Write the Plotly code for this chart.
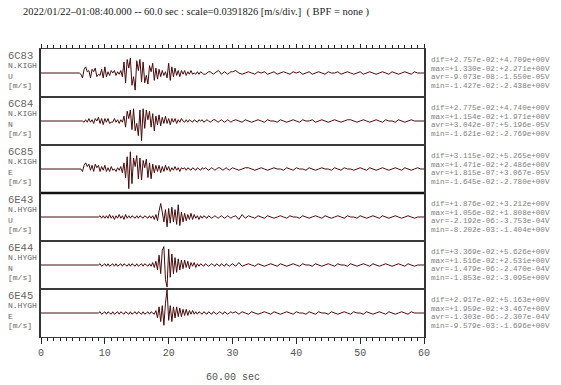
import numpy as np
import plotly.graph_objects as go
from plotly.subplots import make_subplots

# ---------------- data ----------------
TITLE = "2022/01/22\u201301:08:40.000 -- 60.0 sec : scale=0.0391826 [m/s/div.]  ( BPF = none )"
SCALE = 0.0391826          # m/s per division (one panel)
UNIT = 1e-3                # trace values below are in 1e-3 m/s
STATIONS = ["6C83", "6C84", "6C85", "6E43", "6E44", "6E45"]
SITES = ["N.KIGH", "N.KIGH", "N.KIGH", "N.HYGH", "N.HYGH", "N.HYGH"]
COMPS = ["U", "N", "E", "U", "N", "E"]
ONSETS = [6.0, 6.5, 6.25, 9.0, 9.0, 9.0]   # s, first sample of the early arrays
EARLY_DT = 0.25                            # s
LATE_T0 = 30.0                             # s
LATE_DT = 0.5                              # s
X_TICKS = [0, 10, 20, 30, 40, 50, 60]

tr1_early = [0, -1, -4, 3, 5, 1, 2, -4, 3, 1, 4, -3, -1, -2, 3, -4, 5, -3, 1, -2,
             2, 0, 2, -2, 1, -1, 2, -3, 9, -8, 11, 4, 12, -10, -3, -14, 10, 2, 11, -7,
             9, -8, -2, -9, 6, 1, 8, -6, 4, -5, 3, -3, 2, -2, 1, -4, 8, -6, 5, -3,
             4, -2, 2, -3, 2, -1, 2, -2, 1, -1, 2, -1, 0, -1, 1, -1, 1, 0, -1, -1,
             0, 1, 1, 0, -1, 0, 1, 2, 1, -1, 0, 1, 0, -1, 0, 1]
tr1_late = [1, 2, 0, -1, 0, 1, 0, -1, 1, 0, 1, -1, 0, 1, -1, 0, 1, 0, -1, 1,
            0, 1, -1, 0, 1, -1, 0, 1, 0, -1, 1, 0, 0, 1, -1, 0, 1, 0, -1, 0,
            1, -1, 0, 1, 0, -1, 0, 1, 0, -1, 1, 0, -1, 0, 1, 0, -1, 1, 0, 0]

tr2_early = [0, -1, 1, -1, 2, -1, 1, -2, 2, 0, 3, -2, 2, -3, 2, -1, 2, -2, -1, -1,
             2, -1, 1, -2, 1, -1, 4, -5, 8, 2, 9, -7, 10, -8, -2, -12, 9, -16, 10, -6,
             9, 1, 8, -5, 6, -8, 4, -3, 5, -4, 3, -2, 4, -2, 2, -3, 2, -1, 2, -2,
             1, -1, 2, 0, -1, 1, -1, 1, 0, -1, 1, 0, -1, 1, 0, 1, -1, 0, 1, 0,
             -1, 0, 1, 1, 0, -1, 0, 1, 0, -1, 0, 1, 0, -1]
tr2_late = [0, 1, 0, -1, 1, 0, -1, 0, 1, 0, -1, 1, 0, 0, -1, 1, 0, -1, 0, 1,
            0, -1, 1, 0, 0, 1, -1, 0, 1, 0, -1, 0, 1, 0, -1, 0, 1, 1, 0, -1,
            0, 1, 0, -1, 0, 1, 0, -1, 1, 0, 0, -1, 1, 0, -1, 0, 1, 0, 0, 0]

tr3_early = [0, -2, 3, 5, 2, 4, -1, 3, -2, 4, 1, 3, -2, 2, -1, 3, -2, 1, -2, 2,
             -1, 0, -2, 1, -1, 2, -3, 5, -7, 10, -16, 14, -12, 9, 2, 11, -8, 9, -9, 7,
             1, 8, -7, 5, -8, 4, -3, 3, -2, 3, -3, 2, -2, 3, -1, 2, -2, 1, -1, 2,
             -1, 1, -2, 1, 0, 1, -1, 1, 0, -1, 1, 0, -1, 1, 0, -1, 1, 0, 1, 0,
             -1, 0, 1, 0, -1, 0, 1, 1, 0, -1, 0, 1, 0, -1, 0]
tr3_late = [1, 0, -1, 0, 1, 1, 0, -1, 0, 1, 0, -1, 0, 1, 0, 0, -1, 1, 0, -1,
            1, 0, 0, -1, 1, 0, -1, 0, 1, 0, 0, -1, 1, 0, -1, 1, 0, 0, -1, 0,
            1, 0, -1, 1, 0, -1, 0, 1, 0, -1, 0, 1, 0, -1, 1, 0, -1, 0, 1, 0]

tr4_early = [0, 1, -1, 1, -1, 1, -1, 2, -1, 1, -2, 1, -1, 2, -1, 1, -2, 2, -1, 1,
             -1, 1, 0, -1, 1, -1, 1, 0, -1, 1, 0, -1, 1, -1, 1, -2, 2, -3, 5, 11,
             4, -4, 6, -8, 7, -5, 8, -4, 6, -6, 10, -7, 4, -4, 3, -3, 2, -2, 3, -2,
             2, -1, 1, -2, 1, -1, 1, 0, -1, 1, 0, -1, 0, 1, 0, -1, 0, 1, 0, -1,
             0, 1, 0, -1]
tr4_late = [0, 1, -2, 2, -1, 1, 0, -1, 1, 0, -1, 1, 0, -1, 0, 1, 0, -1, 1, 0,
            0, -1, 1, 0, -1, 0, 1, 0, -1, 1, 0, -1, 0, 1, 0, -1, 1, 0, 0, -1,
            1, 0, -1, 0, 1, 0, -1, 1, 0, -1, 0, 1, 0, -1, 0, 1, 0, -1, 0, 0]

tr5_early = [0, 1, -1, 0, 1, -1, 1, -1, 0, 1, -1, 1, -1, 0, 1, -1, 1, 0, -1, 1,
             -1, 1, 0, -1, 1, -1, 0, 1, -1, 1, 0, -1, 1, -1, 2, -2, 3, -4, 8, -7,
             12, 15, -12, -18, 13, -10, 9, -7, 6, -6, 5, -4, 4, -3, 4, -2, 3, -3, 2, -1,
             2, -2, 1, -1, 1, 0, -1, 1, 0, -1, 0, 1, 0, -1, 1, 0, -1, 1, 0, -1,
             1, 0, -1, 0]
tr5_late = [1, -1, 2, -1, 0, 1, 0, -1, 1, 0, -1, 0, 1, 0, -1, 1, 0, -1, 0, 1,
            0, -1, 1, 0, 0, -1, 1, 0, -1, 0, 1, 0, -1, 1, 0, 0, -1, 1, 0, -1,
            0, 1, 0, -1, 1, 0, -1, 0, 1, 0, -1, 0, 1, 0, -1, 1, 0, -1, 0, 0]

tr6_early = [0, 1, -1, 0, 1, -1, 1, 0, -1, 1, -1, 0, 1, -1, 1, 0, -1, 1, 0, -1,
             1, -1, 0, 1, -1, 1, 0, -1, 1, -1, 0, 1, -1, 1, 0, -1, 2, -4, 5, -7,
             6, -10, 8, 19, -6, 6, -7, 5, -4, 5, -3, 4, -3, 3, -2, 3, -2, 2, -1, 2,
             -1, 1, -1, 1, 0, -1, 1, 0, -1, 1, 0, -1, 1, 0, -1, 0, 1, 0, -1, 1,
             0, -1, 0, 1]
tr6_late = [0, 1, -1, 1, 0, -1, 1, 0, -1, 0, 1, 0, -1, 1, 0, -1, 0, 1, 0, -1,
            1, 0, 0, -1, 1, 0, -1, 1, 0, 0, -1, 1, 0, -1, 0, 1, 0, -1, 1, 0,
            0, -1, 1, 0, -1, 0, 1, 0, -1, 1, 0, -1, 0, 1, 0, -1, 1, 0, 0, 0]

EARLY = [tr1_early, tr2_early, tr3_early, tr4_early, tr5_early, tr6_early]
LATE = [tr1_late, tr2_late, tr3_late, tr4_late, tr5_late, tr6_late]

STATS = [
    ["dif=+2.757e-02:+4.709e+00V", "max=+1.330e-02:+2.271e+00V",
     "avr=-9.073e-08:-1.550e-05V", "min=-1.427e-02:-2.438e+00V"],
    ["dif=+2.775e-02:+4.740e+00V", "max=+1.154e-02:+1.971e+00V",
     "avr=+3.042e-07:+5.196e-05V", "min=-1.621e-02:-2.769e+00V"],
    ["dif=+3.115e-02:+5.265e+00V", "max=+1.471e-02:+2.486e+00V",
     "avr=+1.815e-07:+3.067e-05V", "min=-1.645e-02:-2.780e+00V"],
    ["dif=+1.876e-02:+3.212e+00V", "max=+1.056e-02:+1.808e+00V",
     "avr=-2.192e-06:-3.753e-04V", "min=-8.202e-03:-1.404e+00V"],
    ["dif=+3.369e-02:+5.626e+00V", "max=+1.516e-02:+2.531e+00V",
     "avr=-1.479e-06:-2.470e-04V", "min=-1.853e-02:-3.095e+00V"],
    ["dif=+2.917e-02:+5.163e+00V", "max=+1.959e-02:+3.467e+00V",
     "avr=-1.303e-06:-2.307e-04V", "min=-9.579e-03:-1.696e+00V"],
]

# ---------------- figure ----------------
N = len(STATIONS)
fig = make_subplots(rows=N, cols=1, shared_xaxes=True, vertical_spacing=0)

TRACE_COLOR = "#4a0a0a"
FRAME = "#222222"
MONO = "Liberation Mono, Courier New, monospace"

for i in range(N):
    early = np.asarray(EARLY[i], dtype=float)
    late = np.asarray(LATE[i], dtype=float)
    t_early = ONSETS[i] + EARLY_DT * np.arange(len(early))
    keep = t_early < LATE_T0
    t_early, early = t_early[keep], early[keep]
    t_late = LATE_T0 + LATE_DT * np.arange(len(late))
    t = np.concatenate([[0.0], t_early, t_late, [60.0]])
    v = np.concatenate([[0.0], early, late, [late[-1]]]) * UNIT
    fig.add_trace(go.Scatter(x=t, y=v, mode="lines",
                             line=dict(color=TRACE_COLOR, width=1),
                             showlegend=False, hoverinfo="skip"),
                  row=i + 1, col=1)

for r in range(1, N + 1):
    fig.update_yaxes(row=r, col=1, range=[-SCALE / 2, SCALE / 2],
                     showticklabels=False, ticks="", showgrid=False,
                     zeroline=False, showline=True, linecolor="#333333",
                     linewidth=2, mirror=True, fixedrange=True)
    common = dict(range=[0, 60], showgrid=False, zeroline=False, showline=True,
                  linecolor="#3a3a3a", linewidth=1.4, mirror=True,
                  tickmode="array", tickvals=X_TICKS)
    if r == 1:
        fig.update_xaxes(row=r, col=1, side="top", ticks="outside", ticklen=4,
                         tickwidth=1, tickcolor=FRAME, showticklabels=False,
                         minor=dict(dtick=1, tick0=0, ticks="outside", ticklen=2.5,
                                    tickwidth=1, tickcolor=FRAME),
                         **common)
    elif r == N:
        fig.update_xaxes(row=r, col=1, side="bottom", ticks="outside", ticklen=6,
                         tickwidth=1, tickcolor=FRAME, showticklabels=True,
                         ticktext=[str(v) for v in X_TICKS],
                         tickfont=dict(family=MONO, size=10, color="#555555"),
                         minor=dict(dtick=1, tick0=0, ticks="outside", ticklen=3,
                                    tickwidth=1, tickcolor=FRAME),
                         **common)
    else:
        fig.update_xaxes(row=r, col=1, ticks="", showticklabels=False, **common)

annotations = []
LABEL_OFFS = [6.5, 16.5, 27.0, 36.0]
STAT_OFFS = [10.5, 19.5, 28.0, 36.5]
for i in range(N):
    yref = "y domain" if i == 0 else f"y{i + 1} domain"
    lines = [STATIONS[i], SITES[i], COMPS[i], "[m/s]"]
    sizes = [10.5, 8, 8, 8]
    for txt, off, sz in zip(lines, LABEL_OFFS, sizes):
        annotations.append(dict(text=txt, xref="paper", yref=yref, x=0, y=1,
                                xanchor="left", yanchor="middle", xshift=-35,
                                yshift=-off, showarrow=False,
                                font=dict(family=MONO, size=sz, color="#666666")))
    for txt, off in zip(STATS[i], STAT_OFFS):
        annotations.append(dict(text=txt, xref="paper", yref=yref, x=1, y=1,
                                xanchor="left", yanchor="middle", xshift=5,
                                yshift=-off, showarrow=False,
                                font=dict(family=MONO, size=7.6, color="#808080")))

annotations.append(dict(text=TITLE, xref="paper", yref="paper", x=0, y=1,
                        xanchor="left", yanchor="middle", xshift=-20, yshift=37,
                        showarrow=False,
                        font=dict(family="Liberation Serif, Times New Roman, serif",
                                  size=10.5, color="#222222")))
annotations.append(dict(text="60.00 sec", xref="paper", yref="paper", x=0.5, y=0,
                        xanchor="center", yanchor="middle", yshift=-40,
                        showarrow=False,
                        font=dict(family=MONO, size=10, color="#555555")))

fig.update_layout(
    width=561, height=385,
    margin=dict(l=41, r=137, t=49, b=48),
    paper_bgcolor="white", plot_bgcolor="white",
    annotations=annotations,
    shapes=[dict(type="line", xref="paper", yref="y4 domain", x0=0, x1=1,
                 y0=1, y1=1, line=dict(color="#111111", width=2.5))],
)

fig.write_html("out.html", config={"displayModeBar": False},
               post_script="document.body.style.margin='0';document.body.style.padding='0';")
